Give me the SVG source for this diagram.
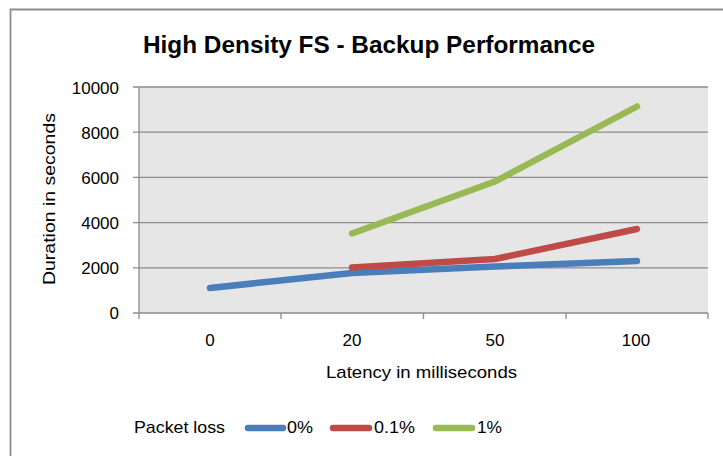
<svg xmlns="http://www.w3.org/2000/svg" width="723" height="456" viewBox="0 0 723 456">
<style>
.t{font-family:"Liberation Sans",Arial,sans-serif;fill:#000}
.tick{font-size:17px}
.grid{stroke:#8c8c8c;stroke-width:1.3;fill:none}
.axis{stroke:#8c8c8c;stroke-width:1.3;fill:none}
.s{fill:none;stroke-width:6.5;stroke-linecap:round;stroke-linejoin:round}
.b{stroke:#4a7ebb}.r{stroke:#be4b48}.g{stroke:#98b954}
</style>
<rect x="0" y="0" width="723" height="456" fill="#ffffff"/>
<g id="frame">
<path d="M10.5,456 V9.5 H723" fill="none" stroke="#8c8c8c" stroke-width="1.8"/>
</g>
<g id="title">
<text class="t" x="143" y="53" font-size="24" font-weight="bold" textLength="452" lengthAdjust="spacingAndGlyphs">High Density FS - Backup Performance</text>
</g>
<g id="plot">
<rect x="139" y="87" width="569" height="226" fill="#e6e6e6"/>
<path class="grid" d="M133,87H708M133,132.2H708M133,177.4H708M133,222.6H708M133,267.8H708"/>
<path class="axis" d="M139,87V313M133,313H708M139,313V319M281,313V319M423.5,313V319M566,313V319M708,313V319"/>
</g>
<g id="y-axis" class="t tick" text-anchor="end">
<text x="119" y="93.5">10000</text>
<text x="119" y="138.5">8000</text>
<text x="119" y="183.5">6000</text>
<text x="119" y="229">4000</text>
<text x="119" y="274">2000</text>
<text x="119" y="319">0</text>
</g>
<g id="x-axis" class="t tick" text-anchor="middle">
<text x="210" y="346">0</text>
<text x="352" y="346">20</text>
<text x="495" y="346">50</text>
<text x="636" y="346">100</text>
</g>
<g id="y-title">
<text class="t" font-size="17" transform="translate(55,285) rotate(-90)" textLength="172" lengthAdjust="spacingAndGlyphs">Duration in seconds</text>
</g>
<g id="x-title">
<text class="t" font-size="17" x="326" y="378" textLength="191" lengthAdjust="spacingAndGlyphs">Latency in milliseconds</text>
</g>
<g id="series">
<polyline class="s b" points="210,288 352,273 495,266.5 637,261"/>
<polyline class="s r" points="352,267.5 495,259 637,229"/>
<polyline class="s g" points="352,233.5 495,181.5 637,106.5"/>
</g>
<g id="legend">
<text class="t" font-size="17" x="134" y="433" textLength="91" lengthAdjust="spacingAndGlyphs">Packet loss</text>
<line class="s b" x1="248" y1="428" x2="283" y2="428"/>
<text class="t" font-size="17" x="287" y="433" textLength="26" lengthAdjust="spacingAndGlyphs">0%</text>
<line class="s r" x1="333" y1="428" x2="369" y2="428"/>
<text class="t" font-size="17" x="374" y="433" textLength="41" lengthAdjust="spacingAndGlyphs">0.1%</text>
<line class="s g" x1="436" y1="428" x2="472" y2="428"/>
<text class="t" font-size="17" x="477" y="433" textLength="25" lengthAdjust="spacingAndGlyphs">1%</text>
</g>
</svg>
